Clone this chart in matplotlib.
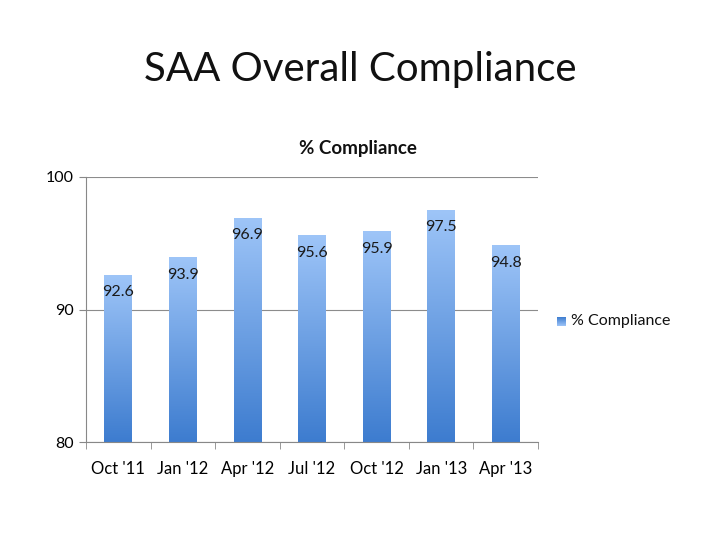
import matplotlib
matplotlib.use("Agg")
import matplotlib.pyplot as plt
import numpy as np
from matplotlib.colors import LinearSegmentedColormap

categories = ["Oct '11", "Jan '12", "Apr '12", "Jul '12", "Oct '12", "Jan '13", "Apr '13"]
values = [92.6, 93.9, 96.9, 95.6, 95.9, 97.5, 94.8]
series_name = "% Compliance"
yticks = [80, 90, 100]

plt.rcParams['font.family'] = ['Lato', 'DejaVu Sans']

fig = plt.figure(figsize=(7.2, 5.4), dpi=100)
ax = fig.add_axes([86/720, 1-442/540, 452/720, 265/540])

cmap = LinearSegmentedColormap.from_list("g", ["#3D7CCF", "#9EC5F8"])
grad = np.linspace(0, 1, 256).reshape(-1, 1)
width = 0.43
x = np.arange(len(categories))
for xi, v in zip(x, values):
    ax.imshow(grad, cmap=cmap, origin="lower", aspect="auto",
              extent=[xi - width/2, xi + width/2, 80, v], zorder=2, interpolation="bilinear")
    ax.text(xi, v - 0.78, f"{v}", ha="center", va="top", fontsize=11.5, color="#1a1a1a", zorder=3)

ax.set_xlim(-0.5, len(categories) - 0.5)
ax.set_ylim(80, 100)
ax.set_yticks(yticks)
ax.set_yticklabels([str(t) for t in yticks], fontsize=11.5)
ax.set_xticks(x)
ax.set_xticklabels(categories, fontsize=12)
ax.tick_params(axis='x', length=0, pad=14)
ax.set_xticks(np.arange(len(categories) + 1) - 0.5, minor=True)
ax.tick_params(axis='x', which='minor', length=5, color="#888888")
ax.tick_params(axis='y', length=5, color="#888888", pad=4)
ax.grid(axis='y', color="#8c8c8c", linewidth=0.8, zorder=0)
for s in ["top", "right"]:
    ax.spines[s].set_visible(False)
for s in ["left", "bottom"]:
    ax.spines[s].set_color("#888888")
    ax.spines[s].set_linewidth(0.8)

fig.text(0.5, 1-69/540, "SAA Overall Compliance", ha="center", va="center", fontsize=29, color="#111111")
fig.text(358/720, 1-148/540, series_name, ha="center", va="center", fontsize=13.5, fontweight="bold", color="#111111")

# legend
lax = fig.add_axes([0, 0, 1, 1], facecolor="none")
lax.set_xlim(0, 720); lax.set_ylim(540, 0); lax.axis("off")
lax.imshow(grad, cmap=cmap, origin="upper", aspect="auto", extent=[557, 566, 326, 317], interpolation="bilinear")
lax.set_xlim(0, 720); lax.set_ylim(540, 0)
lax.text(571, 321.5, series_name, ha="left", va="center", fontsize=11.5, color="#111111")

fig.savefig("out.png", dpi=100)
